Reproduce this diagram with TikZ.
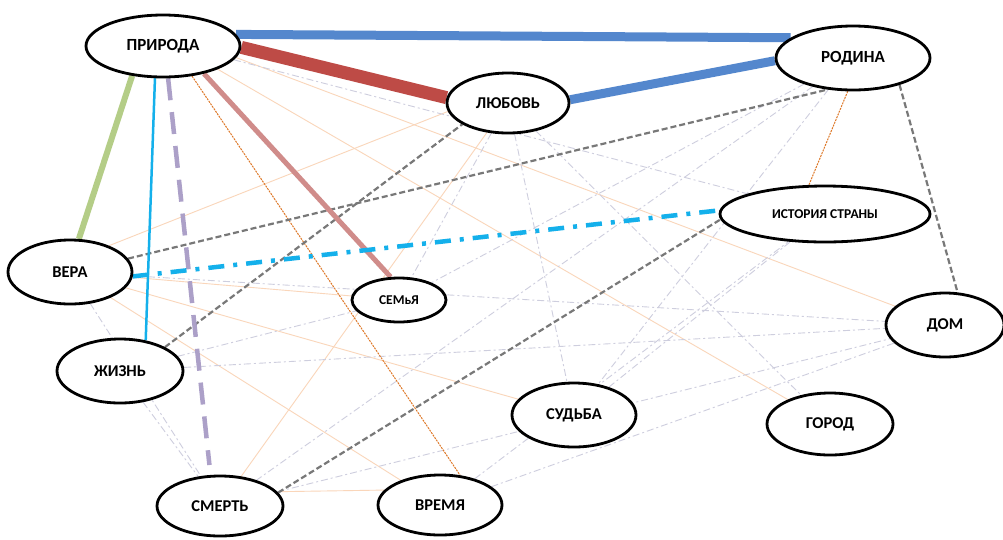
\documentclass[tikz,border=0pt]{standalone}
\usepackage{fontspec}
\setmainfont{Carlito}
\usetikzlibrary{shapes.geometric}
\pgfdeclarelayer{back}
\pgfdeclarelayer{bg}
\pgfsetlayers{back,bg,main}
\definecolor{cblue}{RGB}{84,135,205}
\definecolor{cred}{RGB}{190,75,70}
\definecolor{cgreen}{RGB}{180,205,135}
\definecolor{ccyan}{RGB}{20,176,235}
\definecolor{clav}{RGB}{172,160,200}
\definecolor{cpink}{RGB}{208,140,138}
\definecolor{corange}{RGB}{222,120,40}
\definecolor{cgray}{RGB}{120,120,120}
\definecolor{cfo}{RGB}{250,214,186}
\definecolor{cfl}{RGB}{206,206,222}
\begin{document}
\begin{tikzpicture}[x=1pt,y=-1pt,
  word/.style={ellipse,draw=black,line width=2.8pt,fill=white,inner sep=0pt,
    font=\bfseries\fontsize{16.5}{18}\selectfont},
  big/.style={font=\bfseries\fontsize{17}{19}\selectfont},
  small/.style={font=\bfseries\fontsize{13.5}{15}\selectfont},
  faintO/.style={draw=cfo,line width=0.9pt},
  faintL/.style={draw=cfl,line width=0.9pt,dash pattern=on 7pt off 3pt on 2pt off 3pt},
  sblue/.style={draw=cblue,line width=9pt},
  sred/.style={draw=cred,line width=13pt},
  sgreen/.style={draw=cgreen,line width=6pt},
  scyan/.style={draw=ccyan,line width=2.5pt},
  slav/.style={draw=clav,line width=4.5pt,dash pattern=on 22pt off 12pt},
  spink/.style={draw=cpink,line width=5pt},
  scyandd/.style={draw=ccyan,line width=4.5pt,dash pattern=on 16pt off 9pt on 4pt off 9pt},
  sorange/.style={draw=corange,line width=1pt,dash pattern=on 2pt off 1pt},
  sgray/.style={draw=cgray,line width=2.2pt,dash pattern=on 6pt off 3pt}
]
\begin{pgfonlayer}{back}
\fill[white] (0,0) rectangle (1003,539);
\end{pgfonlayer}
\useasboundingbox (0,0) rectangle (1003,539);

\node[word,big,minimum width=154pt,minimum height=62pt] (prir) at (163,46) {ПРИРОДА};
\node[word,minimum width=122pt,minimum height=60pt] (lyub) at (508,103) {ЛЮБОВЬ};
\node[word,big,minimum width=154pt,minimum height=64pt] (rod) at (853,58) {РОДИНА};
\node[word,small,minimum width=210pt,minimum height=56pt] (ist) at (825,214) {ИСТОРИЯ СТРАНЫ};
\node[word,minimum width=124pt,minimum height=64pt] (vera) at (70,272) {ВЕРА};
\node[word,small,minimum width=94pt,minimum height=44pt] (semya) at (399,300) {СЕМьЯ};
\node[word,minimum width=126pt,minimum height=64pt] (zhizn) at (120,371) {ЖИЗНЬ};
\node[word,minimum width=118pt,minimum height=64pt] (dom) at (945,325) {ДОМ};
\node[word,minimum width=124pt,minimum height=64pt] (sudba) at (574,415) {СУДЬБА};
\node[word,minimum width=126pt,minimum height=62pt] (gorod) at (830,424) {ГОРОД};
\node[word,minimum width=126pt,minimum height=60pt] (smert) at (220,506) {СМЕРТЬ};
\node[word,minimum width=124pt,minimum height=60pt] (vremya) at (440,505) {ВРЕМЯ};

\begin{pgfonlayer}{bg}
% faint orange connectors
\draw[faintO] (vera.34) -- (lyub.-172);
\draw[faintO] (prir.-9) -- (dom);
\draw[faintO] (vera) -- (semya);
\draw[faintO] (vera) -- (sudba);
\draw[faintO] (vera) -- (vremya);
\draw[faintO] (smert) -- (lyub);
\draw[faintO] (smert.14) -- (vremya.165);
\draw[faintO] (prir.-23) -- (gorod);
% faint lavender dash-dot connectors
\draw[faintL] (prir.-11) -- (ist);
\draw[faintL] (vera) -- (dom);
\draw[faintL] (zhizn) -- (dom);
\draw[faintL] (zhizn) -- (smert);
\draw[faintL] (vera) -- (smert);
\draw[faintL] (smert) -- (dom);
\draw[faintL] (vremya) -- (dom);
\draw[faintL] (sudba) -- (ist);
\draw[faintL] (lyub) -- (sudba);
\draw[faintL] (lyub) -- (semya);
\draw[faintL] (rod) -- (semya);
\draw[faintL] (rod) -- (smert);
\draw[faintL] (rod) -- (sudba);
\draw[faintL] (vremya) -- (ist);
\draw[faintL] (zhizn) -- (semya);
\draw[faintL] (lyub) -- (gorod);
% strong connectors
\draw[sorange] (prir.-46) -- (vremya.56);
\draw[sorange] (rod.-99) -- (ist.119);
\draw[sgray] (vera.13) -- (rod.-129);
\draw[sgray] (zhizn.28) -- (lyub.-155);
\draw[sgray] (smert.13) -- (ist.-177);
\draw[sgray] (rod.-30) -- (dom.69);
\draw[sgreen] (prir.-136) -- (vera.75);
\draw[scyan] (prir.-104) -- (zhizn.50);
\draw[slav,shorten >=10pt] (prir.-81) -- (smert.107);
\draw[spink] (prir.-34) -- (semya.110);
\draw[scyandd] (vera.-4) -- (ist.178);
\draw[sblue] (prir.9) -- (rod.162);
\draw[sblue] (lyub.3) -- (rod.-178);
\draw[sred] (prir.-1) -- (lyub.175);
\end{pgfonlayer}
\end{tikzpicture}
\end{document}
